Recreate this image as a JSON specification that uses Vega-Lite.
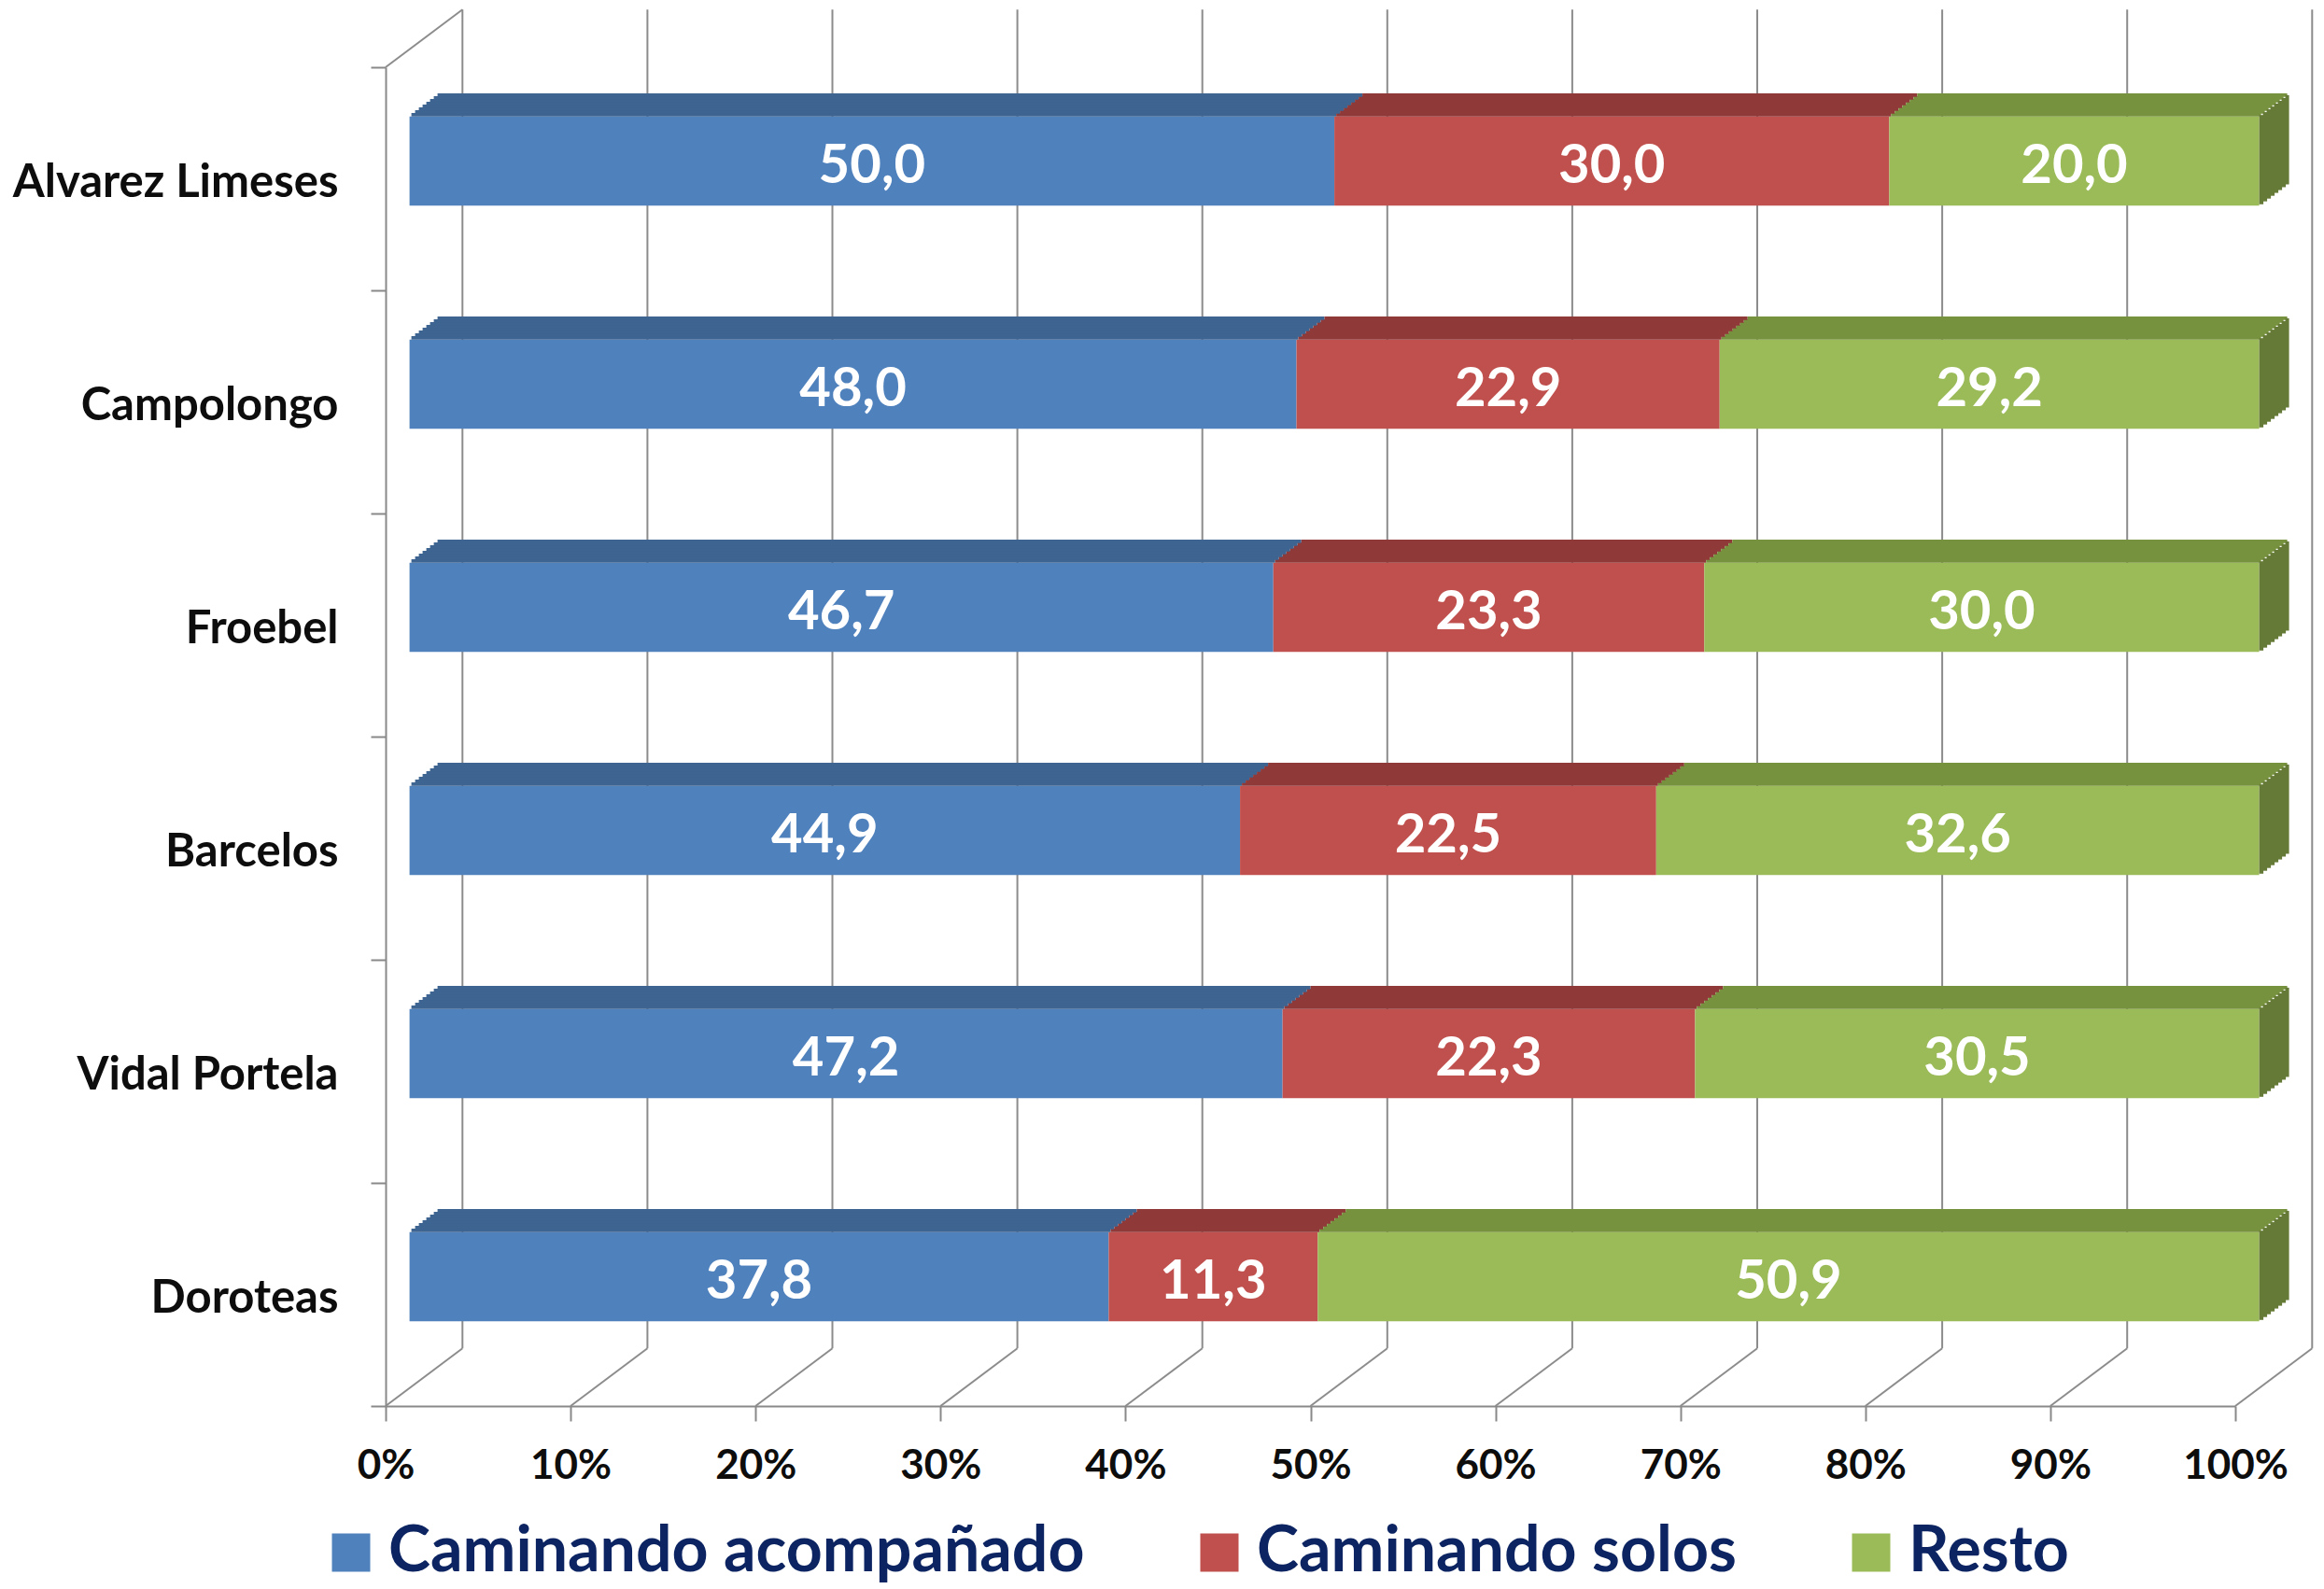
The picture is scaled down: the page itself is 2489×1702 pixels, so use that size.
{
  "$schema": "https://vega.github.io/schema/vega-lite/v6.json",
  "width": 1981,
  "height": 1434,
  "autosize": {"type": "none"},
  "padding": {"left": 413, "top": 72, "right": 95, "bottom": 196},
  "background": "#ffffff",
  "datasets": {
    "shares": [
      {"school": "Alvarez Limeses", "cat": "Caminando acompañado", "value": 50.0},
      {"school": "Alvarez Limeses", "cat": "Caminando solos", "value": 30.0},
      {"school": "Alvarez Limeses", "cat": "Resto", "value": 20.0},
      {"school": "Campolongo", "cat": "Caminando acompañado", "value": 48.0},
      {"school": "Campolongo", "cat": "Caminando solos", "value": 22.9},
      {"school": "Campolongo", "cat": "Resto", "value": 29.2},
      {"school": "Froebel\u00a0", "cat": "Caminando acompañado", "value": 46.7},
      {"school": "Froebel\u00a0", "cat": "Caminando solos", "value": 23.3},
      {"school": "Froebel\u00a0", "cat": "Resto", "value": 30.0},
      {"school": "Barcelos", "cat": "Caminando acompañado", "value": 44.9},
      {"school": "Barcelos", "cat": "Caminando solos", "value": 22.5},
      {"school": "Barcelos", "cat": "Resto", "value": 32.6},
      {"school": "Vidal Portela", "cat": "Caminando acompañado", "value": 47.2},
      {"school": "Vidal Portela", "cat": "Caminando solos", "value": 22.3},
      {"school": "Vidal Portela", "cat": "Resto", "value": 30.5},
      {"school": "Doroteas", "cat": "Caminando acompañado", "value": 37.8},
      {"school": "Doroteas", "cat": "Caminando solos", "value": 11.3},
      {"school": "Doroteas", "cat": "Resto", "value": 50.9}
    ],
    "grid": [
      {"v": 0}, {"v": 0.1}, {"v": 0.2}, {"v": 0.3}, {"v": 0.4}, {"v": 0.5},
      {"v": 0.6}, {"v": 0.7}, {"v": 0.8}, {"v": 0.9}, {"v": 1}
    ]
  },
  "layer": [
    {
      "data": {"name": "grid"},
      "mark": {"type": "rule", "color": "#8c8c8c", "strokeWidth": 2, "xOffset": 82.3, "yOffset": -61.7, "y2Offset": -61.7},
      "encoding": {
        "x": {
          "field": "v", "type": "quantitative", "scale": {"domain": [0, 1], "nice": false},
          "axis": {"orient": "bottom", "title": null, "values": [0, 0.1, 0.2, 0.3, 0.4, 0.5, 0.6, 0.7, 0.8, 0.9, 1], "format": ".0%", "labelFontSize": 44, "labelPadding": 26, "labelFlush": false, "labelOverlap": false, "offset": 0}
        },
        "y": {"datum": 0, "type": "quantitative", "scale": {"domain": [0, 1], "nice": false}, "axis": null},
        "y2": {"datum": 1}
      }
    },
    {
      "data": {"name": "grid"},
      "mark": {"type": "rule", "color": "#8c8c8c", "strokeWidth": 2, "x2Offset": 82.3, "y2Offset": -61.7},
      "encoding": {
        "x": {"field": "v", "type": "quantitative", "scale": {"domain": [0, 1], "nice": false}, "axis": null},
        "x2": {"field": "v"},
        "y": {"datum": 0, "type": "quantitative", "scale": {"domain": [0, 1], "nice": false}, "axis": null},
        "y2": {"datum": 0}
      }
    },
    {
      "data": {"name": "grid"},
      "transform": [{"filter": {"field": "v", "equal": 0}}],
      "mark": {"type": "rule", "color": "#8c8c8c", "strokeWidth": 2, "x2Offset": 82.3, "y2Offset": -61.7},
      "encoding": {
        "x": {"field": "v", "type": "quantitative", "scale": {"domain": [0, 1], "nice": false}, "axis": null},
        "x2": {"field": "v"},
        "y": {"datum": 1, "type": "quantitative", "scale": {"domain": [0, 1], "nice": false}, "axis": null},
        "y2": {"datum": 1}
      }
    },
    {
      "data": {"name": "shares"},
      "transform": [{"stack": "value", "groupby": ["school"], "sort": [{"field": "cat", "order": "ascending"}], "offset": "normalize", "as": ["x0", "x1"]}],
      "mark": {"type": "bar", "height": 95.6, "xOffset": 25.6, "x2Offset": 25.6, "yOffset": -19},
      "encoding": {
        "x": {"field": "x0", "type": "quantitative", "scale": {"domain": [0, 1], "nice": false}, "axis": null},
        "x2": {"field": "x1"},
        "y": {
          "field": "school", "type": "nominal",
          "scale": {"domain": ["Alvarez Limeses", "Campolongo", "Froebel\u00a0", "Barcelos", "Vidal Portela", "Doroteas"], "paddingInner": 0, "paddingOuter": 0},
          "axis": {"orient": "left", "title": null, "tickBand": "extent", "labelFontSize": 49, "labelPadding": 35, "labelLimit": 1000, "labelOffset": 4, "offset": 0}
        },
        "color": {
          "field": "cat", "type": "nominal",
          "scale": {"domain": ["Caminando acompañado", "Caminando solos", "Resto"], "range": ["#4f81bd", "#c0504d", "#9bbb59"]},
          "legend": {
            "title": null, "orient": "none", "legendX": -71, "legendY": 1557, "direction": "horizontal",
            "symbolType": "square", "symbolSize": 1681, "symbolStrokeWidth": 0, "symbolOpacity": 1,
            "labelFont": "Lato", "labelFontSize": 68, "labelFontWeight": "bold", "labelColor": "#0c2461",
            "labelOffset": 6, "columnPadding": 110, "labelLimit": 2000
          }
        }
      }
    },
    {"data": {"name": "shares"}, "transform": [{"stack": "value", "groupby": ["school"], "sort": [{"field": "cat", "order": "ascending"}], "offset": "normalize", "as": ["x0", "x1"]}],
     "mark": {"type": "bar", "height": 3.6, "xOffset": 27.6, "x2Offset": 27.6, "yOffset": -68.6},
     "encoding": {"x": {"field": "x0", "type": "quantitative", "scale": {"domain": [0, 1], "nice": false}, "axis": null}, "x2": {"field": "x1"},
       "y": {"field": "school", "type": "nominal", "scale": {"domain": ["Alvarez Limeses", "Campolongo", "Froebel\u00a0", "Barcelos", "Vidal Portela", "Doroteas"], "paddingInner": 0, "paddingOuter": 0}, "axis": null},
       "fill": {"field": "cat", "type": "nominal", "scale": {"domain": ["Caminando acompañado", "Caminando solos", "Resto"], "range": ["#3e6591", "#8f3a39", "#77923f"]}, "legend": null}}},
    {"data": {"name": "shares"}, "transform": [{"stack": "value", "groupby": ["school"], "sort": [{"field": "cat", "order": "ascending"}], "offset": "normalize", "as": ["x0", "x1"]}],
     "mark": {"type": "bar", "height": 3.6, "xOffset": 31.6, "x2Offset": 31.6, "yOffset": -71.6},
     "encoding": {"x": {"field": "x0", "type": "quantitative", "scale": {"domain": [0, 1], "nice": false}, "axis": null}, "x2": {"field": "x1"},
       "y": {"field": "school", "type": "nominal", "scale": {"domain": ["Alvarez Limeses", "Campolongo", "Froebel\u00a0", "Barcelos", "Vidal Portela", "Doroteas"], "paddingInner": 0, "paddingOuter": 0}, "axis": null},
       "fill": {"field": "cat", "type": "nominal", "scale": {"domain": ["Caminando acompañado", "Caminando solos", "Resto"], "range": ["#3e6591", "#8f3a39", "#77923f"]}, "legend": null}}},
    {"data": {"name": "shares"}, "transform": [{"stack": "value", "groupby": ["school"], "sort": [{"field": "cat", "order": "ascending"}], "offset": "normalize", "as": ["x0", "x1"]}],
     "mark": {"type": "bar", "height": 3.6, "xOffset": 35.6, "x2Offset": 35.6, "yOffset": -74.6},
     "encoding": {"x": {"field": "x0", "type": "quantitative", "scale": {"domain": [0, 1], "nice": false}, "axis": null}, "x2": {"field": "x1"},
       "y": {"field": "school", "type": "nominal", "scale": {"domain": ["Alvarez Limeses", "Campolongo", "Froebel\u00a0", "Barcelos", "Vidal Portela", "Doroteas"], "paddingInner": 0, "paddingOuter": 0}, "axis": null},
       "fill": {"field": "cat", "type": "nominal", "scale": {"domain": ["Caminando acompañado", "Caminando solos", "Resto"], "range": ["#3e6591", "#8f3a39", "#77923f"]}, "legend": null}}},
    {"data": {"name": "shares"}, "transform": [{"stack": "value", "groupby": ["school"], "sort": [{"field": "cat", "order": "ascending"}], "offset": "normalize", "as": ["x0", "x1"]}],
     "mark": {"type": "bar", "height": 3.6, "xOffset": 39.6, "x2Offset": 39.6, "yOffset": -77.6},
     "encoding": {"x": {"field": "x0", "type": "quantitative", "scale": {"domain": [0, 1], "nice": false}, "axis": null}, "x2": {"field": "x1"},
       "y": {"field": "school", "type": "nominal", "scale": {"domain": ["Alvarez Limeses", "Campolongo", "Froebel\u00a0", "Barcelos", "Vidal Portela", "Doroteas"], "paddingInner": 0, "paddingOuter": 0}, "axis": null},
       "fill": {"field": "cat", "type": "nominal", "scale": {"domain": ["Caminando acompañado", "Caminando solos", "Resto"], "range": ["#3e6591", "#8f3a39", "#77923f"]}, "legend": null}}},
    {"data": {"name": "shares"}, "transform": [{"stack": "value", "groupby": ["school"], "sort": [{"field": "cat", "order": "ascending"}], "offset": "normalize", "as": ["x0", "x1"]}],
     "mark": {"type": "bar", "height": 3.6, "xOffset": 43.6, "x2Offset": 43.6, "yOffset": -80.6},
     "encoding": {"x": {"field": "x0", "type": "quantitative", "scale": {"domain": [0, 1], "nice": false}, "axis": null}, "x2": {"field": "x1"},
       "y": {"field": "school", "type": "nominal", "scale": {"domain": ["Alvarez Limeses", "Campolongo", "Froebel\u00a0", "Barcelos", "Vidal Portela", "Doroteas"], "paddingInner": 0, "paddingOuter": 0}, "axis": null},
       "fill": {"field": "cat", "type": "nominal", "scale": {"domain": ["Caminando acompañado", "Caminando solos", "Resto"], "range": ["#3e6591", "#8f3a39", "#77923f"]}, "legend": null}}},
    {"data": {"name": "shares"}, "transform": [{"stack": "value", "groupby": ["school"], "sort": [{"field": "cat", "order": "ascending"}], "offset": "normalize", "as": ["x0", "x1"]}],
     "mark": {"type": "bar", "height": 3.6, "xOffset": 47.6, "x2Offset": 47.6, "yOffset": -83.6},
     "encoding": {"x": {"field": "x0", "type": "quantitative", "scale": {"domain": [0, 1], "nice": false}, "axis": null}, "x2": {"field": "x1"},
       "y": {"field": "school", "type": "nominal", "scale": {"domain": ["Alvarez Limeses", "Campolongo", "Froebel\u00a0", "Barcelos", "Vidal Portela", "Doroteas"], "paddingInner": 0, "paddingOuter": 0}, "axis": null},
       "fill": {"field": "cat", "type": "nominal", "scale": {"domain": ["Caminando acompañado", "Caminando solos", "Resto"], "range": ["#3e6591", "#8f3a39", "#77923f"]}, "legend": null}}},
    {"data": {"name": "shares"}, "transform": [{"stack": "value", "groupby": ["school"], "sort": [{"field": "cat", "order": "ascending"}], "offset": "normalize", "as": ["x0", "x1"]}],
     "mark": {"type": "bar", "height": 3.6, "xOffset": 51.6, "x2Offset": 51.6, "yOffset": -86.6},
     "encoding": {"x": {"field": "x0", "type": "quantitative", "scale": {"domain": [0, 1], "nice": false}, "axis": null}, "x2": {"field": "x1"},
       "y": {"field": "school", "type": "nominal", "scale": {"domain": ["Alvarez Limeses", "Campolongo", "Froebel\u00a0", "Barcelos", "Vidal Portela", "Doroteas"], "paddingInner": 0, "paddingOuter": 0}, "axis": null},
       "fill": {"field": "cat", "type": "nominal", "scale": {"domain": ["Caminando acompañado", "Caminando solos", "Resto"], "range": ["#3e6591", "#8f3a39", "#77923f"]}, "legend": null}}},
    {"data": {"name": "shares"}, "transform": [{"stack": "value", "groupby": ["school"], "sort": [{"field": "cat", "order": "ascending"}], "offset": "normalize", "as": ["x0", "x1"]}],
     "mark": {"type": "bar", "height": 3.6, "xOffset": 55.6, "x2Offset": 55.6, "yOffset": -89.6},
     "encoding": {"x": {"field": "x0", "type": "quantitative", "scale": {"domain": [0, 1], "nice": false}, "axis": null}, "x2": {"field": "x1"},
       "y": {"field": "school", "type": "nominal", "scale": {"domain": ["Alvarez Limeses", "Campolongo", "Froebel\u00a0", "Barcelos", "Vidal Portela", "Doroteas"], "paddingInner": 0, "paddingOuter": 0}, "axis": null},
       "fill": {"field": "cat", "type": "nominal", "scale": {"domain": ["Caminando acompañado", "Caminando solos", "Resto"], "range": ["#3e6591", "#8f3a39", "#77923f"]}, "legend": null}}},
    {"data": {"name": "shares"}, "transform": [{"stack": "value", "groupby": ["school"], "sort": [{"field": "cat", "order": "ascending"}], "offset": "normalize", "as": ["x0", "x1"]}, {"filter": {"field": "cat", "equal": "Resto"}}],
     "mark": {"type": "bar", "height": 95.6, "color": "#667a37", "xOffset": 25.6, "x2Offset": 30.1, "yOffset": -20.5},
     "encoding": {"x": {"field": "x1", "type": "quantitative", "scale": {"domain": [0, 1], "nice": false}, "axis": null}, "x2": {"field": "x1"},
       "y": {"field": "school", "type": "nominal", "scale": {"domain": ["Alvarez Limeses", "Campolongo", "Froebel\u00a0", "Barcelos", "Vidal Portela", "Doroteas"], "paddingInner": 0, "paddingOuter": 0}, "axis": null}}},
    {"data": {"name": "shares"}, "transform": [{"stack": "value", "groupby": ["school"], "sort": [{"field": "cat", "order": "ascending"}], "offset": "normalize", "as": ["x0", "x1"]}, {"filter": {"field": "cat", "equal": "Resto"}}],
     "mark": {"type": "bar", "height": 95.6, "color": "#667a37", "xOffset": 29.6, "x2Offset": 34.1, "yOffset": -23.6},
     "encoding": {"x": {"field": "x1", "type": "quantitative", "scale": {"domain": [0, 1], "nice": false}, "axis": null}, "x2": {"field": "x1"},
       "y": {"field": "school", "type": "nominal", "scale": {"domain": ["Alvarez Limeses", "Campolongo", "Froebel\u00a0", "Barcelos", "Vidal Portela", "Doroteas"], "paddingInner": 0, "paddingOuter": 0}, "axis": null}}},
    {"data": {"name": "shares"}, "transform": [{"stack": "value", "groupby": ["school"], "sort": [{"field": "cat", "order": "ascending"}], "offset": "normalize", "as": ["x0", "x1"]}, {"filter": {"field": "cat", "equal": "Resto"}}],
     "mark": {"type": "bar", "height": 95.6, "color": "#667a37", "xOffset": 33.6, "x2Offset": 38.1, "yOffset": -26.6},
     "encoding": {"x": {"field": "x1", "type": "quantitative", "scale": {"domain": [0, 1], "nice": false}, "axis": null}, "x2": {"field": "x1"},
       "y": {"field": "school", "type": "nominal", "scale": {"domain": ["Alvarez Limeses", "Campolongo", "Froebel\u00a0", "Barcelos", "Vidal Portela", "Doroteas"], "paddingInner": 0, "paddingOuter": 0}, "axis": null}}},
    {"data": {"name": "shares"}, "transform": [{"stack": "value", "groupby": ["school"], "sort": [{"field": "cat", "order": "ascending"}], "offset": "normalize", "as": ["x0", "x1"]}, {"filter": {"field": "cat", "equal": "Resto"}}],
     "mark": {"type": "bar", "height": 95.6, "color": "#667a37", "xOffset": 37.6, "x2Offset": 42.1, "yOffset": -29.6},
     "encoding": {"x": {"field": "x1", "type": "quantitative", "scale": {"domain": [0, 1], "nice": false}, "axis": null}, "x2": {"field": "x1"},
       "y": {"field": "school", "type": "nominal", "scale": {"domain": ["Alvarez Limeses", "Campolongo", "Froebel\u00a0", "Barcelos", "Vidal Portela", "Doroteas"], "paddingInner": 0, "paddingOuter": 0}, "axis": null}}},
    {"data": {"name": "shares"}, "transform": [{"stack": "value", "groupby": ["school"], "sort": [{"field": "cat", "order": "ascending"}], "offset": "normalize", "as": ["x0", "x1"]}, {"filter": {"field": "cat", "equal": "Resto"}}],
     "mark": {"type": "bar", "height": 95.6, "color": "#667a37", "xOffset": 41.6, "x2Offset": 46.1, "yOffset": -32.7},
     "encoding": {"x": {"field": "x1", "type": "quantitative", "scale": {"domain": [0, 1], "nice": false}, "axis": null}, "x2": {"field": "x1"},
       "y": {"field": "school", "type": "nominal", "scale": {"domain": ["Alvarez Limeses", "Campolongo", "Froebel\u00a0", "Barcelos", "Vidal Portela", "Doroteas"], "paddingInner": 0, "paddingOuter": 0}, "axis": null}}},
    {"data": {"name": "shares"}, "transform": [{"stack": "value", "groupby": ["school"], "sort": [{"field": "cat", "order": "ascending"}], "offset": "normalize", "as": ["x0", "x1"]}, {"filter": {"field": "cat", "equal": "Resto"}}],
     "mark": {"type": "bar", "height": 95.6, "color": "#667a37", "xOffset": 45.6, "x2Offset": 50.1, "yOffset": -35.7},
     "encoding": {"x": {"field": "x1", "type": "quantitative", "scale": {"domain": [0, 1], "nice": false}, "axis": null}, "x2": {"field": "x1"},
       "y": {"field": "school", "type": "nominal", "scale": {"domain": ["Alvarez Limeses", "Campolongo", "Froebel\u00a0", "Barcelos", "Vidal Portela", "Doroteas"], "paddingInner": 0, "paddingOuter": 0}, "axis": null}}},
    {"data": {"name": "shares"}, "transform": [{"stack": "value", "groupby": ["school"], "sort": [{"field": "cat", "order": "ascending"}], "offset": "normalize", "as": ["x0", "x1"]}, {"filter": {"field": "cat", "equal": "Resto"}}],
     "mark": {"type": "bar", "height": 95.6, "color": "#667a37", "xOffset": 49.6, "x2Offset": 54.1, "yOffset": -38.8},
     "encoding": {"x": {"field": "x1", "type": "quantitative", "scale": {"domain": [0, 1], "nice": false}, "axis": null}, "x2": {"field": "x1"},
       "y": {"field": "school", "type": "nominal", "scale": {"domain": ["Alvarez Limeses", "Campolongo", "Froebel\u00a0", "Barcelos", "Vidal Portela", "Doroteas"], "paddingInner": 0, "paddingOuter": 0}, "axis": null}}},
    {"data": {"name": "shares"}, "transform": [{"stack": "value", "groupby": ["school"], "sort": [{"field": "cat", "order": "ascending"}], "offset": "normalize", "as": ["x0", "x1"]}, {"filter": {"field": "cat", "equal": "Resto"}}],
     "mark": {"type": "bar", "height": 95.6, "color": "#667a37", "xOffset": 53.6, "x2Offset": 57.6, "yOffset": -41.8},
     "encoding": {"x": {"field": "x1", "type": "quantitative", "scale": {"domain": [0, 1], "nice": false}, "axis": null}, "x2": {"field": "x1"},
       "y": {"field": "school", "type": "nominal", "scale": {"domain": ["Alvarez Limeses", "Campolongo", "Froebel\u00a0", "Barcelos", "Vidal Portela", "Doroteas"], "paddingInner": 0, "paddingOuter": 0}, "axis": null}}},
    {
      "data": {"name": "shares"},
      "transform": [
        {"stack": "value", "groupby": ["school"], "sort": [{"field": "cat", "order": "ascending"}], "offset": "normalize", "as": ["x0", "x1"]},
        {"fold": ["x0", "x1"], "as": ["k", "pos"]},
        {"aggregate": [{"op": "mean", "field": "pos", "as": "mid"}], "groupby": ["school", "cat", "value"]}
      ],
      "mark": {"type": "text", "color": "#ffffff", "font": "Lato", "fontWeight": "bold", "fontSize": 58, "align": "center", "baseline": "middle", "xOffset": 25.6, "yOffset": -13},
      "encoding": {
        "x": {"field": "mid", "type": "quantitative", "scale": {"domain": [0, 1], "nice": false}, "axis": null},
        "y": {"field": "school", "type": "nominal", "scale": {"domain": ["Alvarez Limeses", "Campolongo", "Froebel\u00a0", "Barcelos", "Vidal Portela", "Doroteas"], "paddingInner": 0, "paddingOuter": 0}, "axis": null},
        "text": {"field": "value", "type": "quantitative", "format": ".1f"}
      }
    }
  ],
  "resolve": {"scale": {"y": "independent", "fill": "independent"}, "axis": {"x": "independent"}},
  "config": {
    "view": {"stroke": null},
    "font": "Lato",
    "locale": {"number": {"decimal": ",", "thousands": ".", "grouping": [3], "currency": ["", "\u00a0€"]}},
    "axis": {
      "grid": false, "domainColor": "#898989", "domainWidth": 2, "tickColor": "#898989", "tickWidth": 2, "tickSize": 16,
      "labelFont": "Lato", "labelFontWeight": "bold", "labelColor": "#0d0d0d"
    }
  }
}
